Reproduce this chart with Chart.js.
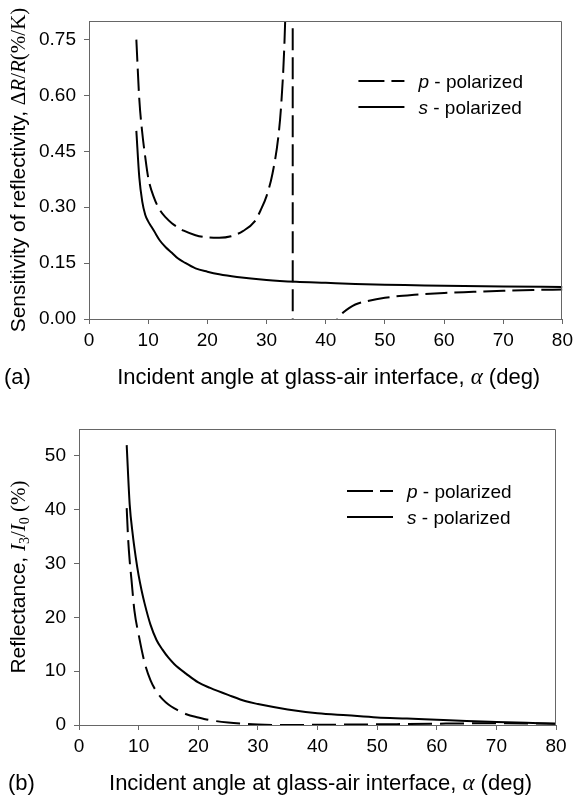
<!DOCTYPE html>
<html>
<head>
<meta charset="utf-8">
<script src="https://cdn.jsdelivr.net/npm/chart.js@4.4.1/dist/chart.umd.min.js"></script>
<style>
  html, body { margin: 0; padding: 0; background: #fff; }
  #wrapA { position: absolute; left: 0; top: 0; width: 578px; height: 400px; }
  #wrapB { position: absolute; left: 0; top: 400px; width: 578px; height: 401px; }
</style>
</head>
<body>
<div id="wrapA"><canvas id="chartA" width="578" height="400"></canvas></div>
<div id="wrapB"><canvas id="chartB" width="578" height="401"></canvas></div>
<script>
// ticks
const xTicks = [0, 10, 20, 30, 40, 50, 60, 70, 80];
const yTicksA = [0, 0.15, 0.30, 0.45, 0.60, 0.75];
const yTicksB = [0, 10, 20, 30, 40, 50];

// (a) sensitivity of reflectivity, s-polarized
const angleSensS = [8, 8.5, 9, 9.5, 10, 10.5, 11, 12, 13, 14, 15, 16, 18, 20, 22, 25, 30, 35, 40, 45, 50, 55, 60, 70, 80];
const sensS = [0.505, 0.38, 0.315, 0.28, 0.262, 0.249, 0.236, 0.21, 0.192, 0.178, 0.163, 0.153, 0.136, 0.127, 0.12, 0.113, 0.105, 0.100, 0.097, 0.094, 0.092, 0.0905, 0.089, 0.087, 0.086];

// (a) sensitivity of reflectivity, p-polarized (pole near 34.4 deg)
const angleSensP = [8, 8.5, 9, 9.5, 10, 11, 12, 13, 14, 15, 16, 18, 20, 22, 24, 26, 28, 29, 30, 31, 32, 32.5, 33, 33.5, 34, 34.4,
                    34.45, 35, 36, 38, 40, 41, 42, 43, 44, 45, 47, 50, 55, 60, 65, 70, 75, 80];
const sensP = [0.75, 0.59, 0.50, 0.435, 0.38, 0.325, 0.292, 0.272, 0.257, 0.246, 0.237, 0.225, 0.219, 0.218, 0.222, 0.236, 0.262, 0.292, 0.33, 0.39, 0.49, 0.58, 0.73, 1.0, 1.8, 8,
               -8, -1.2, -0.45, -0.15, -0.055, -0.025, 0.0, 0.018, 0.030, 0.039, 0.048, 0.057, 0.065, 0.070, 0.073, 0.076, 0.078, 0.079];

// (b) reflectance I3/I0 (%)
const angleReflS = [8, 8.5, 9, 9.5, 10, 10.5, 11, 12, 13, 14, 15, 16, 18, 20, 22, 25, 28, 30, 35, 40, 45, 50, 55, 60, 65, 70, 75, 80];
const reflS = [52, 41, 35.5, 31.3, 27.8, 25, 22.6, 18.6, 15.8, 14.0, 12.5, 11.3, 9.5, 7.9, 6.9, 5.6, 4.4, 3.9, 2.9, 2.2, 1.8, 1.4, 1.2, 0.97, 0.75, 0.57, 0.4, 0.25];
const angleReflP = [8, 8.25, 8.5, 8.8, 9.3, 10, 11, 12, 13, 14, 15, 16, 18, 20, 22, 25, 28, 30, 34, 38, 45, 50, 55, 60, 65, 70, 75, 80];
const reflP = [40.3, 34.4, 30.5, 27, 21.2, 16.8, 11.6, 8.3, 6.2, 4.8, 3.8, 3.1, 2.0, 1.4, 0.9, 0.45, 0.2, 0.1, 0.0, 0.02, 0.08, 0.12, 0.18, 0.24, 0.3, 0.32, 0.3, 0.25];

const SANS = '"Liberation Sans", Arial, sans-serif';
const SERIF = '"Liberation Serif", "Times New Roman", serif';
const AXIS = '#666';

function toPoints(xs, ys) {
    return xs.map(function(x, i){ return {x: x, y: ys[i]}; });
}

// draw a line of text made of runs in different fonts
function richText(ctx, runs, x, y, align) {
    var w = 0;
    runs.forEach(function(r){ ctx.font = r.font; r.w = ctx.measureText(r.text).width; w += r.w; });
    var cx = align == 'left' ? x : x - w / 2;
    runs.forEach(function(r){
        ctx.font = r.font;
        ctx.fillText(r.text, cx, y + (r.dy || 0));
        cx += r.w;
    });
}

function decor(cfg) {
    return {
        id: 'decor',
        afterDraw: function(chart) {
            var ctx = chart.ctx, a = chart.chartArea;
            ctx.save();
            // frame
            ctx.strokeStyle = AXIS;
            ctx.lineWidth = 1;
            ctx.beginPath();
            ctx.moveTo(Math.round(a.left) + 0.5, Math.round(a.top) + 0.5);
            ctx.lineTo(Math.round(a.right) - 0.5, Math.round(a.top) + 0.5);
            ctx.lineTo(Math.round(a.right) - 0.5, Math.round(a.bottom));
            ctx.stroke();

            ctx.fillStyle = '#000';
            ctx.textAlign = 'left';
            ctx.textBaseline = 'alphabetic';

            // legend
            var lx = a.right - cfg.legendRight, tx = a.right - cfg.legendTextRight;
            var ys = [a.top + cfg.legendTop, a.top + cfg.legendTop + cfg.legendGap];
            ctx.strokeStyle = '#000';
            ctx.lineWidth = 2;
            ctx.setLineDash(cfg.dash);
            ctx.beginPath(); ctx.moveTo(lx, ys[0]); ctx.lineTo(lx + 46, ys[0]); ctx.stroke();
            ctx.setLineDash([]);
            ctx.beginPath(); ctx.moveTo(lx, ys[1]); ctx.lineTo(lx + 46, ys[1]); ctx.stroke();
            richText(ctx, [{text: 'p', font: 'italic 19px ' + SANS}, {text: ' - polarized', font: '19px ' + SANS}], tx, ys[0] + 7, 'left');
            richText(ctx, [{text: 's', font: 'italic 19px ' + SANS}, {text: ' - polarized', font: '19px ' + SANS}], tx, ys[1] + 7, 'left');

            // x title and panel tag
            var xt = [
                {text: 'Incident angle at glass-air interface, ', font: '22px ' + SANS},
                {text: 'α', font: 'italic 23px ' + SERIF},
                {text: ' (deg)', font: '22px ' + SANS}
            ];
            richText(ctx, xt, (a.left + a.right) / 2 + 3, cfg.xTitleY, 'center');
            ctx.font = '22px ' + SANS;
            ctx.fillText(cfg.tag, cfg.tagX, cfg.xTitleY);

            // y title
            ctx.translate(cfg.yTitleX, (a.top + a.bottom) / 2);
            ctx.rotate(-Math.PI / 2);
            richText(ctx, cfg.yTitle, 0, 0, 'center');
            ctx.restore();
        }
    };
}

function makeScales(yMax, yTicks, yDigits, yWidth, xHeight) {
    var tickFont = {family: SANS, size: 19};
    return {
        x: {
            type: 'linear', min: 0, max: 80,
            afterBuildTicks: function(s){ s.ticks = xTicks.map(function(v){ return {value: v}; }); },
            afterFit: function(s){ s.height = xHeight; },
            ticks: {color: '#000', font: tickFont, padding: 5, maxRotation: 0,
                    callback: function(v){ return String(v); }},
            grid: {display: true, drawOnChartArea: false, drawTicks: true, tickLength: 5, color: AXIS},
            border: {display: true, color: AXIS, width: 1}
        },
        y: {
            type: 'linear', min: 0, max: yMax,
            afterBuildTicks: function(s){ s.ticks = yTicks.map(function(v){ return {value: v}; }); },
            afterFit: function(s){ s.width = yWidth; },
            ticks: {color: '#000', font: tickFont, padding: 8,
                    callback: function(v){ return Number(v).toFixed(yDigits); }},
            grid: {display: true, drawOnChartArea: false, drawTicks: true, tickLength: 5, color: AXIS},
            border: {display: true, color: AXIS, width: 1}
        }
    };
}

function lineSet(label, pts, dash) {
    return {
        label: label, data: pts,
        borderColor: '#000', borderWidth: 2, borderDash: dash,
        pointRadius: 0, fill: false, cubicInterpolationMode: 'monotone'
    };
}

document.addEventListener('DOMContentLoaded', function(){

    var chartA = new Chart(document.getElementById('chartA'), {
        type: 'line',
        data: {datasets: [
            lineSet('p - polarized', toPoints(angleSensP, sensP), [22, 7]),
            lineSet('s - polarized', toPoints(angleSensS, sensS), [])
        ]},
        options: {
            responsive: false, animation: false,
            layout: {padding: {top: 21, right: 11, left: 0, bottom: 0}},
            scales: makeScales(0.8, yTicksA, 2, 89, 81),
            plugins: {legend: {display: false}, tooltip: {enabled: false}}
        },
        plugins: [decor({
            dash: [26, 7], legendRight: 204, legendTextRight: 144, legendTop: 60, legendGap: 26,
            xTitleY: 384, tag: '(a)', tagX: 4, yTitleX: 25,
            yTitle: [
                {text: 'Sensitivity of reflectivity, ', font: '21px ' + SANS},
                {text: 'Δ', font: '21px ' + SERIF},
                {text: 'R', font: 'italic 21px ' + SERIF},
                {text: '/', font: '21px ' + SERIF},
                {text: 'R', font: 'italic 21px ' + SERIF},
                {text: '(%/K)', font: '21px ' + SERIF}
            ]
        })]
    });

    var chartB = new Chart(document.getElementById('chartB'), {
        type: 'line',
        data: {datasets: [
            lineSet('p - polarized', toPoints(angleReflP, reflP), [24, 8]),
            lineSet('s - polarized', toPoints(angleReflS, reflS), [])
        ]},
        options: {
            responsive: false, animation: false,
            layout: {padding: {top: 29, right: 22, left: 0, bottom: 0}},
            scales: makeScales(55, yTicksB, 0, 79, 76),
            plugins: {legend: {display: false}, tooltip: {enabled: false}}
        },
        plugins: [decor({
            dash: [26, 7], legendRight: 209, legendTextRight: 149, legendTop: 62, legendGap: 26,
            xTitleY: 390, tag: '(b)', tagX: 8, yTitleX: 25,
            yTitle: [
                {text: 'Reflectance, ', font: '21px ' + SANS},
                {text: 'I', font: 'italic 21px ' + SERIF},
                {text: '3', font: '14px ' + SERIF, dy: 4},
                {text: '/', font: '21px ' + SERIF},
                {text: 'I', font: 'italic 21px ' + SERIF},
                {text: '0', font: '14px ' + SERIF, dy: 4},
                {text: ' (%)', font: '21px ' + SERIF}
            ]
        })]
    });

}, false);
</script>
</body>
</html>
